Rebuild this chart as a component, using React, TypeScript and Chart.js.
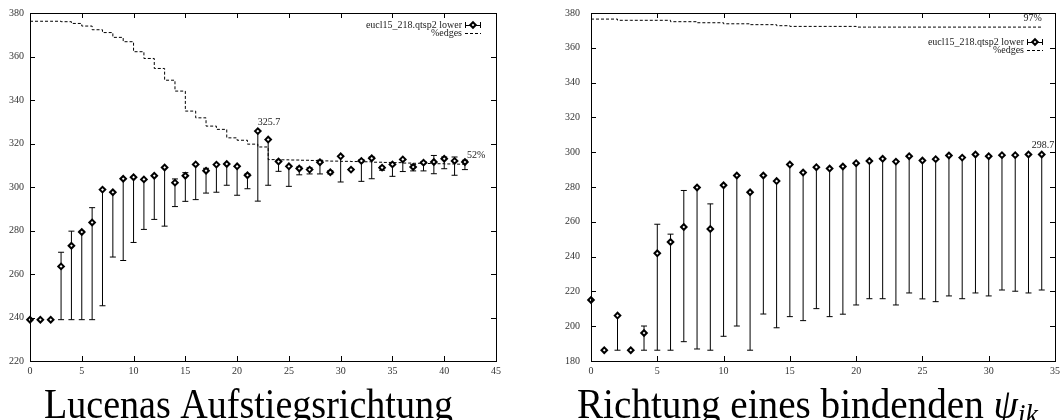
import React, { useEffect, useRef } from "react";
import { Chart, registerables } from "chart.js";

Chart.register(...registerables);

// ---------------- Left panel data ----------------
const leftX = [0, 1, 2, 3, 4, 5, 6, 7, 8, 9, 10, 11, 12, 13, 14, 15, 16, 17, 18, 19, 20, 21, 22, 23, 24, 25, 26, 27, 28, 29, 30, 31, 32, 33, 34, 35, 36, 37, 38, 39, 40, 41, 42];
const leftLower = [239, 239, 239, 263.5, 273.0, 279.3, 283.7, 298.8, 297.6, 303.8, 304.5, 303.5, 305.2, 309.0, 302.0, 305.2, 310.4, 307.5, 310.3, 310.6, 309.5, 305.4, 325.7, 321.8, 311.7, 309.5, 308.5, 308.0, 311.4, 306.8, 314.1, 308.0, 312.0, 313.2, 308.9, 310.4, 312.7, 309.2, 311.2, 311.5, 313.0, 312.0, 311.5];
const leftErrLow = [239, 239, 239, 239, 239, 239, 239, 245.4, 267.8, 266.2, 274.5, 280.5, 285.1, 282.0, 291.0, 293.4, 294.2, 297.2, 297.6, 300.8, 296.2, 299.2, 293.5, 300.8, 307.2, 300.3, 305.6, 306.0, 306.0, 306.0, 302.3, 307.6, 302.6, 303.8, 307.7, 304.9, 307.1, 307.4, 307.4, 306.1, 308.4, 305.4, 308.0];
const leftErrHigh = [239, 239, 239, 270.0, 279.7, 279.7, 290.5, 298.8, 297.6, 303.8, 304.5, 303.5, 305.2, 309.0, 303.7, 306.6, 310.4, 308.6, 310.3, 310.6, 309.5, 306.0, 325.7, 321.8, 312.3, 309.5, 309.2, 308.8, 312.3, 307.5, 314.4, 308.4, 312.6, 313.8, 309.5, 311.0, 312.7, 310.4, 311.7, 314.5, 313.8, 313.8, 312.3];
const leftEdges = [376.2, 376.2, 376.2, 376.0, 375.2, 374.0, 372.3, 371.0, 368.8, 366.8, 362.2, 359.1, 354.5, 349.1, 344.1, 334.9, 331.8, 328.0, 326.5, 322.6, 321.5, 319.7, 318.4, 312.6, 312.5, 312.4, 312.3, 312.2, 312.0, 311.9, 311.8, 311.7, 311.6, 311.4, 311.3, 311.2, 311.0, 310.9, 310.8, 310.7, 310.6, 310.5, 310.4];
const leftXTicks = [0, 5, 10, 15, 20, 25, 30, 35, 40, 45];
const leftYTicks = [220, 240, 260, 280, 300, 320, 340, 360, 380];
const leftAnnotations = [
  { text: "325.7", x: 22, y: 325.7, align: "left" },
  { text: "52%", x: 42.2, y: 310.4, align: "left" },
];
const leftCaption = [{ text: "Lucenas Aufstiegsrichtung", italic: false, sub: false }];

// ---------------- Right panel data ----------------
const rightX = [0, 1, 2, 3, 4, 5, 6, 7, 8, 9, 10, 11, 12, 13, 14, 15, 16, 17, 18, 19, 20, 21, 22, 23, 24, 25, 26, 27, 28, 29, 30, 31, 32, 33, 34];
const rightLower = [215.1, 186.2, 206.1, 186.2, 196.1, 241.9, 248.4, 257.0, 279.7, 255.9, 281.0, 286.6, 277.0, 286.6, 283.4, 292.9, 288.3, 291.4, 290.6, 291.8, 293.7, 294.9, 296.2, 294.6, 297.7, 295.2, 296.0, 298.1, 296.9, 298.7, 297.7, 298.3, 298.3, 298.7, 298.7];
const rightErrLow = [215.1, 186.2, 186.2, 186.2, 186.2, 186.2, 186.2, 191.1, 186.9, 186.2, 194.2, 200.1, 186.2, 207.0, 199.1, 205.5, 203.2, 210.1, 205.5, 206.9, 212.2, 215.8, 215.8, 212.2, 219.1, 215.7, 214.1, 217.4, 215.8, 219.1, 217.4, 220.8, 220.1, 219.1, 220.8];
const rightErrHigh = [215.1, 186.2, 206.1, 186.2, 200.1, 258.6, 252.9, 278.0, 279.7, 270.3, 281.0, 286.6, 277.0, 286.6, 283.4, 292.9, 288.3, 291.4, 290.6, 291.8, 293.7, 294.9, 296.2, 294.6, 297.7, 295.2, 296.0, 298.1, 296.9, 298.7, 297.7, 298.3, 298.3, 298.7, 298.7];
const rightEdges = [376.5, 376.5, 375.8, 375.8, 375.8, 375.8, 375.0, 375.0, 374.4, 374.4, 373.8, 373.8, 373.3, 373.3, 372.7, 372.3, 372.3, 372.3, 372.3, 372.3, 371.9, 371.9, 371.9, 371.9, 371.9, 371.9, 371.9, 371.9, 371.9, 371.9, 371.9, 371.9, 371.9, 371.9, 371.9];
const rightXTicks = [0, 5, 10, 15, 20, 25, 30, 35];
const rightYTicks = [180, 200, 220, 240, 260, 280, 300, 320, 340, 360, 380];
const rightAnnotations = [
  { text: "97%", x: 34, y: 371.9, align: "right" },
  { text: "298.7", x: 33.25, y: 298.7, align: "left" },
];
const rightCaption = [
  { text: "Richtung eines bindenden ", italic: false, sub: false },
  { text: "ψ", italic: true, sub: false },
  { text: "ik", italic: true, sub: true },
];

const seriesName = "eucl15_218.qtsp2 lower";
const edgesName = "%edges";

const SERIF = "'Liberation Serif', 'DejaVu Serif', serif";

type Panel = {
  left: number;
  width: number;
  x: number[];
  value: number[];
  low: number[];
  high: number[];
  edges: number[];
  xTicks: number[];
  yTicks: number[];
  annotations: { text: string; x: number; y: number; align: string }[];
  caption: { text: string; italic: boolean; sub: boolean }[];
  captionCenter: number;
  captionWidth: number;
  yAxisWidth: number;
  yLabelPad: number;
  padRight: number;
  legendTextRight: number;
  legendTop: number;
};

const gnuPlugin = {
  id: "gnu",
  beforeDatasetsDraw(chart: any) {
    const o = chart.options.plugins.gnu as Panel;
    const ctx = chart.ctx;
    const xs = chart.scales.x;
    const ys = chart.scales.y;
    ctx.save();
    ctx.strokeStyle = "#000";
    ctx.lineWidth = 1;
    o.x.forEach((xv, i) => {
      const lo = o.low[i];
      const hi = o.high[i];
      if (hi - lo < 0.3) return;
      const px = xs.getPixelForValue(xv);
      const yl = ys.getPixelForValue(lo);
      const yh = ys.getPixelForValue(hi);
      ctx.beginPath();
      ctx.moveTo(px, yl);
      ctx.lineTo(px, yh);
      ctx.moveTo(px - 3, yl);
      ctx.lineTo(px + 3, yl);
      ctx.moveTo(px - 3, yh);
      ctx.lineTo(px + 3, yh);
      ctx.stroke();
    });
    ctx.restore();
  },
  afterDraw(chart: any) {
    const o = chart.options.plugins.gnu as Panel;
    const ctx = chart.ctx;
    const xs = chart.scales.x;
    const ys = chart.scales.y;
    const { left, right, top, bottom } = chart.chartArea;
    ctx.save();
    ctx.strokeStyle = "#000";
    ctx.lineWidth = 1;
    ctx.strokeRect(Math.round(left) + 0.5, Math.round(top) + 0.5, Math.round(right) - Math.round(left), Math.round(bottom) - Math.round(top));
    const tl = 5;
    ctx.beginPath();
    o.xTicks.forEach((t) => {
      const px = Math.round(xs.getPixelForValue(t)) + 0.5;
      ctx.moveTo(px, bottom);
      ctx.lineTo(px, bottom - tl);
      ctx.moveTo(px, top);
      ctx.lineTo(px, top + tl);
    });
    o.yTicks.forEach((t) => {
      const py = Math.round(ys.getPixelForValue(t)) + 0.5;
      ctx.moveTo(left, py);
      ctx.lineTo(left + tl, py);
      ctx.moveTo(right, py);
      ctx.lineTo(right - tl, py);
    });
    ctx.stroke();

    ctx.fillStyle = "#222";
    ctx.font = `10px ${SERIF}`;
    ctx.textBaseline = "alphabetic";
    o.annotations.forEach((a) => {
      ctx.textAlign = a.align as CanvasTextAlign;
      ctx.fillText(a.text, xs.getPixelForValue(a.x), ys.getPixelForValue(a.y) - 6);
    });

    const tr = right - o.legendTextRight;
    const y1 = top + o.legendTop;
    const y2 = y1 + 8;
    ctx.textAlign = "right";
    ctx.textBaseline = "middle";
    ctx.fillText(seriesName, tr, y1);
    ctx.fillText(edgesName, tr, y2);
    const s0 = tr + 3;
    const s1 = tr + 19;
    ctx.beginPath();
    ctx.moveTo(s0, Math.round(y1) + 0.5);
    ctx.lineTo(s1, Math.round(y1) + 0.5);
    ctx.moveTo(s0 + 0.5, y1 - 3);
    ctx.lineTo(s0 + 0.5, y1 + 3);
    ctx.moveTo(s1 - 0.5, y1 - 3);
    ctx.lineTo(s1 - 0.5, y1 + 3);
    ctx.stroke();
    const mx = (s0 + s1) / 2;
    ctx.beginPath();
    ctx.moveTo(mx, y1 - 2.8);
    ctx.lineTo(mx + 2.8, y1);
    ctx.lineTo(mx, y1 + 2.8);
    ctx.lineTo(mx - 2.8, y1);
    ctx.closePath();
    ctx.fillStyle = "#fff";
    ctx.fill();
    ctx.lineWidth = 2;
    ctx.stroke();
    ctx.lineWidth = 1;
    ctx.setLineDash([3, 2]);
    ctx.beginPath();
    ctx.moveTo(s0, Math.round(y2) + 0.5);
    ctx.lineTo(s1, Math.round(y2) + 0.5);
    ctx.stroke();
    ctx.setLineDash([]);

    const base = 42;
    const fontFor = (p: { italic: boolean; sub: boolean }) =>
      `${p.italic ? "italic " : ""}${p.sub ? Math.round(base * 0.72) : base}px ${SERIF}`;
    let total = 0;
    const widths = o.caption.map((p) => {
      ctx.font = fontFor(p);
      const w = ctx.measureText(p.text).width;
      total += w;
      return w;
    });
    const sx = o.captionWidth / total;
    const cx = o.captionCenter - chart.canvas.offsetLeft;
    ctx.translate(cx - o.captionWidth / 2, 418);
    ctx.scale(sx, 1);
    ctx.fillStyle = "#000";
    ctx.textAlign = "left";
    ctx.textBaseline = "alphabetic";
    let xx = 0;
    o.caption.forEach((p, i) => {
      ctx.font = fontFor(p);
      ctx.fillText(p.text, xx, p.sub ? 6 : 0);
      xx += widths[i];
    });
    ctx.restore();
  },
};

function makeConfig(p: Panel, yMin: number, yMax: number, xMax: number): any {
  const tickFont = { family: SERIF, size: 10 };
  return {
    type: "scatter",
    data: {
      datasets: [
        {
          type: "scatter",
          label: seriesName,
          data: p.x.map((x, i) => ({ x, y: p.value[i] })),
          pointStyle: "rectRot",
          pointRadius: 2.8,
          borderWidth: 2,
          borderColor: "#000",
          backgroundColor: "#fff",
          clip: false,
          order: 0,
        },
        {
          type: "line",
          label: edgesName,
          data: p.x.map((x, i) => ({ x, y: p.edges[i] })),
          borderColor: "#000",
          borderWidth: 1,
          borderDash: [3, 2],
          stepped: true,
          pointRadius: 0,
          fill: false,
          clip: false,
          order: 1,
        },
      ],
    },
    options: {
      animation: false,
      responsive: false,
      maintainAspectRatio: false,
      events: [],
      layout: { padding: { top: 13, right: p.padRight, bottom: 44, left: 0 } },
      plugins: { legend: { display: false }, tooltip: { enabled: false }, gnu: p },
      scales: {
        x: {
          type: "linear",
          min: 0,
          max: xMax,
          grid: { display: false, drawTicks: false },
          border: { display: false },
          ticks: { font: tickFont, color: "#333", padding: 4, maxRotation: 0, autoSkip: false },
          afterBuildTicks: (s: any) => {
            s.ticks = p.xTicks.map((v) => ({ value: v }));
          },
          afterFit: (s: any) => {
            s.height = 15;
            s.paddingLeft = 0;
            s.paddingRight = 0;
          },
        },
        y: {
          type: "linear",
          min: yMin,
          max: yMax,
          grid: { display: false, drawTicks: false },
          border: { display: false },
          ticks: { font: tickFont, color: "#333", padding: p.yLabelPad },
          afterBuildTicks: (s: any) => {
            s.ticks = p.yTicks.map((v) => ({ value: v }));
          },
          afterFit: (s: any) => {
            s.width = p.yAxisWidth;
            s.paddingTop = 0;
            s.paddingBottom = 0;
          },
        },
      },
    },
    plugins: [gnuPlugin],
  };
}

const leftPanel: Panel = {
  left: 0,
  width: 530,
  x: leftX,
  value: leftLower,
  low: leftErrLow,
  high: leftErrHigh,
  edges: leftEdges,
  xTicks: leftXTicks,
  yTicks: leftYTicks,
  annotations: leftAnnotations,
  caption: leftCaption,
  captionCenter: 248.5,
  captionWidth: 409,
  yAxisWidth: 30,
  yLabelPad: 6,
  padRight: 34,
  legendTextRight: 34,
  legendTop: 12,
};

const rightPanel: Panel = {
  left: 535,
  width: 526,
  x: rightX,
  value: rightLower,
  low: rightErrLow,
  high: rightErrHigh,
  edges: rightEdges,
  xTicks: rightXTicks,
  yTicks: rightYTicks,
  annotations: rightAnnotations,
  caption: rightCaption,
  captionCenter: 807.5,
  captionWidth: 461,
  yAxisWidth: 56,
  yLabelPad: 11,
  padRight: 4,
  legendTextRight: 31,
  legendTop: 29,
};

function Panel({ p, yMin, yMax, xMax }: { p: Panel; yMin: number; yMax: number; xMax: number }) {
  const ref = useRef<HTMLCanvasElement>(null);
  useEffect(() => {
    if (!ref.current) return;
    const chart = new Chart(ref.current, makeConfig(p, yMin, yMax, xMax));
    return () => chart.destroy();
  }, []);
  return (
    <canvas
      ref={ref}
      width={p.width}
      height={420}
      style={{ position: "absolute", left: p.left, top: 0, width: p.width, height: 420 }}
    />
  );
}

export default function App() {
  return (
    <div
      style={{
        position: "absolute",
        left: 0,
        top: 0,
        width: 1061,
        height: 420,
        overflow: "hidden",
        background: "#fff",
      }}
    >
      <Panel p={leftPanel} yMin={220} yMax={380} xMax={45} />
      <Panel p={rightPanel} yMin={180} yMax={380} xMax={35} />
    </div>
  );
}
